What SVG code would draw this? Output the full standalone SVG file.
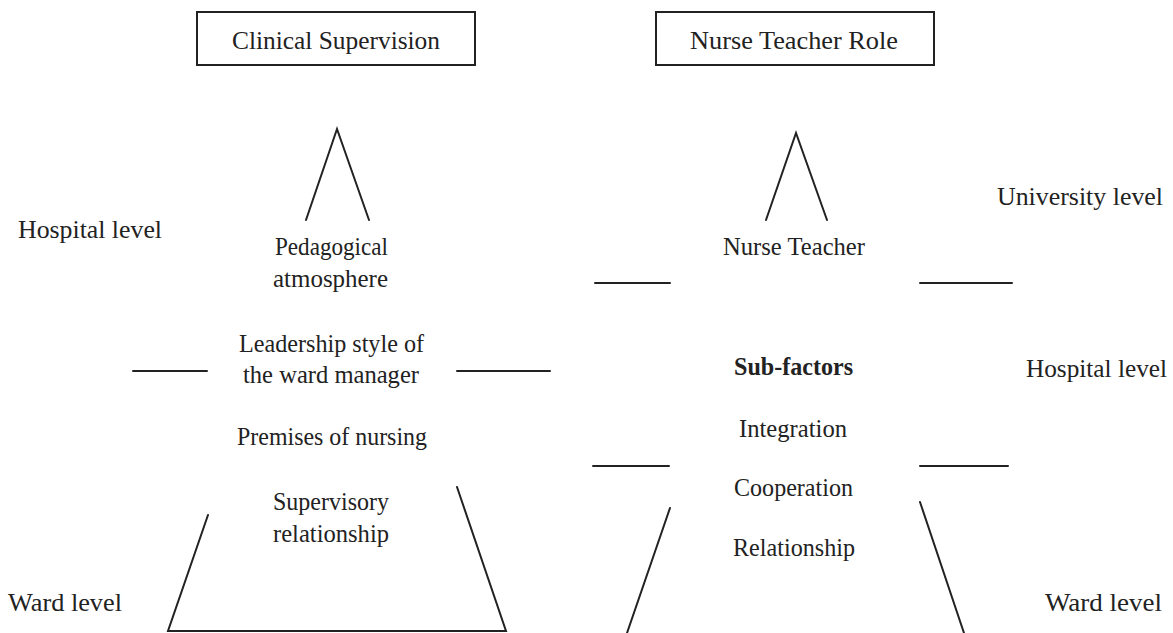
<svg xmlns="http://www.w3.org/2000/svg" width="1173" height="633" viewBox="0 0 1173 633">
  <style>
    text { font-family: "Liberation Serif", "DejaVu Serif", serif; font-size: 26px; fill: #222; }
    .bold { font-weight: bold; }
    .box { fill: #fff; stroke: #222; stroke-width: 2; }
    .ln { stroke: #222; stroke-width: 2; fill: none; stroke-linecap: round; }
  </style>
  <rect width="1173" height="633" fill="#fff"/>

  <!-- headers -->
  <g id="header-clinical">
    <rect class="box" x="197" y="12" width="278" height="53"/>
    <text x="232" y="49" textLength="208" lengthAdjust="spacingAndGlyphs">Clinical Supervision</text>
  </g>
  <g id="header-nurse">
    <rect class="box" x="656" y="12" width="278" height="53"/>
    <text x="690" y="49" textLength="208" lengthAdjust="spacingAndGlyphs">Nurse Teacher Role</text>
  </g>

  <!-- level labels -->
  <g id="labels-levels">
    <text x="18" y="238" textLength="144" lengthAdjust="spacingAndGlyphs">Hospital level</text>
    <text x="8" y="611" textLength="114" lengthAdjust="spacingAndGlyphs">Ward level</text>
    <text x="997" y="205" textLength="166" lengthAdjust="spacingAndGlyphs">University level</text>
    <text x="1026" y="377" textLength="141" lengthAdjust="spacingAndGlyphs">Hospital level</text>
    <text x="1045" y="611" textLength="117" lengthAdjust="spacingAndGlyphs">Ward level</text>
  </g>

  <!-- clinical supervision factors -->
  <g id="factors-clinical">
    <text x="275" y="255" textLength="113" lengthAdjust="spacingAndGlyphs">Pedagogical</text>
    <text x="273" y="287" textLength="115" lengthAdjust="spacingAndGlyphs">atmosphere</text>
    <text x="239" y="352" textLength="185" lengthAdjust="spacingAndGlyphs">Leadership style of</text>
    <text x="243" y="383" textLength="176" lengthAdjust="spacingAndGlyphs">the ward manager</text>
    <text x="237" y="445" textLength="190" lengthAdjust="spacingAndGlyphs">Premises of nursing</text>
    <text x="273" y="510" textLength="116" lengthAdjust="spacingAndGlyphs">Supervisory</text>
    <text x="273" y="542" textLength="116" lengthAdjust="spacingAndGlyphs">relationship</text>
  </g>

  <!-- nurse teacher factors -->
  <g id="factors-nurse">
    <text x="723" y="255" textLength="142" lengthAdjust="spacingAndGlyphs">Nurse Teacher</text>
    <text class="bold" x="734" y="375" textLength="119" lengthAdjust="spacingAndGlyphs">Sub-factors</text>
    <text x="739" y="437" textLength="108" lengthAdjust="spacingAndGlyphs">Integration</text>
    <text x="734" y="496" textLength="119" lengthAdjust="spacingAndGlyphs">Cooperation</text>
    <text x="733" y="556" textLength="122" lengthAdjust="spacingAndGlyphs">Relationship</text>
  </g>

  <!-- pyramid outlines and level dividers -->
  <g id="connectors">
    <polyline class="ln" points="306,220 337,129 369,220"/>
    <line class="ln" x1="133" y1="371" x2="207" y2="371"/>
    <line class="ln" x1="457" y1="371" x2="550" y2="371"/>
    <polyline class="ln" points="208,515 168,631 506,631 457,487"/>

    <polyline class="ln" points="766,220 796,133 827,220"/>
    <line class="ln" x1="595" y1="283" x2="670" y2="283"/>
    <line class="ln" x1="920" y1="283" x2="1012" y2="283"/>
    <line class="ln" x1="593" y1="466" x2="669" y2="466"/>
    <line class="ln" x1="920" y1="466" x2="1008" y2="466"/>
    <line class="ln" x1="670" y1="508" x2="627" y2="633"/>
    <line class="ln" x1="920" y1="502" x2="964" y2="633"/>
  </g>
</svg>
